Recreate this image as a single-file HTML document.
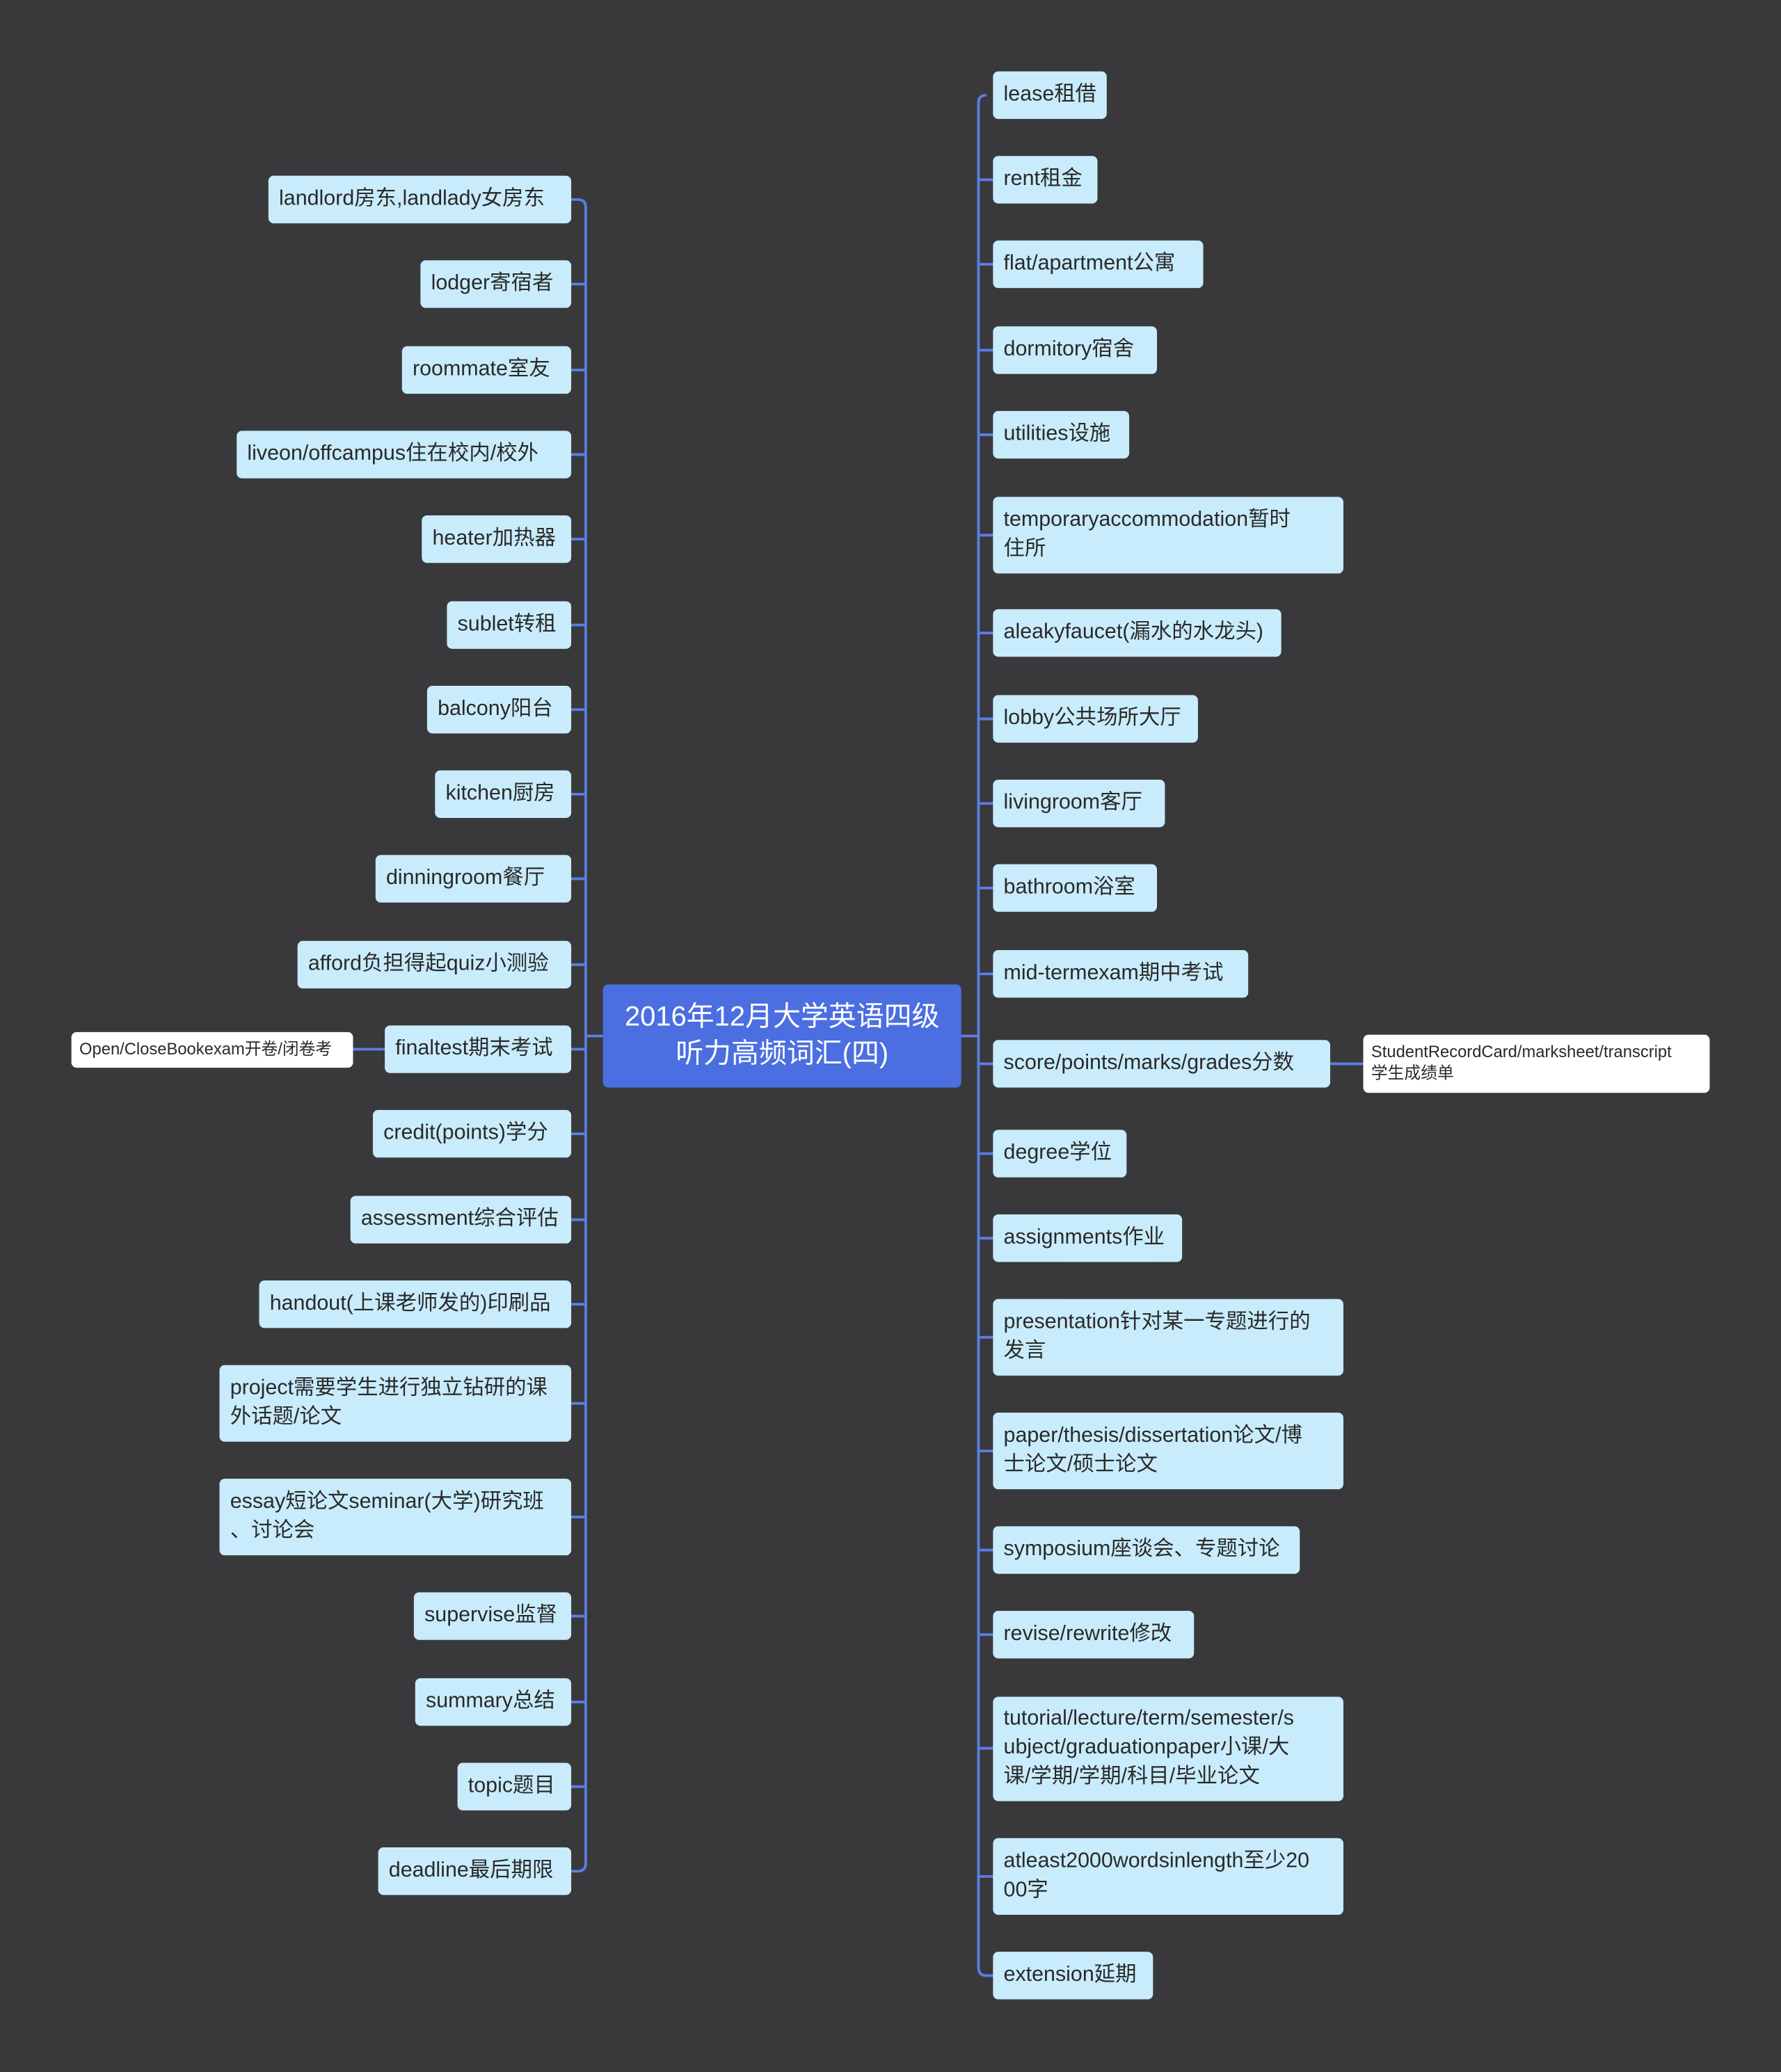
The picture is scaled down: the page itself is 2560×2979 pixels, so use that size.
<!DOCTYPE html>
<html><head><meta charset="utf-8">
<style>
html,body{margin:0;padding:0;background:#39393b;}
body{width:2560px;height:2979px;overflow:hidden;}
#w{position:absolute;left:0;top:0;width:1347px;height:1568px;transform:scale(1.9006,1.8999);transform-origin:0 0;background:#39393b;}
.n{position:absolute;box-sizing:border-box;background:#c9ecfc;border-radius:4px;color:#2a2a2a;font-family:"Liberation Sans","Noto Sans CJK SC",sans-serif;font-size:16px;line-height:22px;padding:7px 8px;white-space:nowrap;overflow:hidden;}
.s{background:#fff;font-size:12.5px;line-height:16px;padding:5px 6px;}
.c{position:absolute;left:456px;top:745px;width:271px;height:78px;background:#4b6fe0;border-radius:4px;color:#fff;font-family:"Liberation Sans","Noto Sans CJK SC",sans-serif;font-size:21px;line-height:28px;text-align:center;padding-top:11px;box-sizing:border-box;}
svg{position:absolute;left:0;top:0;}
</style></head><body><div id="w">
<svg width="1347" height="1568" fill="none" stroke="#5b7de6" stroke-width="2">
<path d="M432 151 H437 Q443 151 443 157 V1410 Q443 1416 437 1416 H432"/>
<path d="M746 72 Q740 72 740 78 V1489 Q740 1495 746 1495 H751"/>
<path d="M443 784 H456 M727 784 H740 M267 794 H291 M1006 805 H1031"/>
<path d="M432 215 H443 M432 280 H443 M432 344 H443 M432 408 H443 M432 473 H443 M432 537 H443 M432 601 H443 M432 665 H443 M432 730 H443 M432 794 H443 M432 858 H443 M432 923 H443 M432 987 H443 M432 1062 H443 M432 1148 H443 M432 1223 H443 M432 1288 H443 M432 1352 H443"/>
<path d="M740 136 H751 M740 200 H751 M740 265 H751 M740 329 H751 M740 405 H751 M740 479 H751 M740 544 H751 M740 608 H751 M740 672 H751 M740 737 H751 M740 805 H751 M740 873 H751 M740 937 H751 M740 1012 H751 M740 1098 H751 M740 1173 H751 M740 1237 H751 M740 1323 H751 M740 1420 H751"/>
</svg>
<div class="c">2016年12月大学英语四级<br>听力高频词汇(四)</div>

<div class="n" style="left:203px;top:133px;width:229px;height:36px">landlord房东,landlady女房东</div>
<div class="n" style="left:318px;top:197px;width:114px;height:36px">lodger寄宿者</div>
<div class="n" style="left:304px;top:262px;width:128px;height:36px">roommate室友</div>
<div class="n" style="left:179px;top:326px;width:253px;height:36px">liveon/offcampus住在校内/校外</div>
<div class="n" style="left:319px;top:390px;width:113px;height:36px">heater加热器</div>
<div class="n" style="left:338px;top:455px;width:94px;height:36px">sublet转租</div>
<div class="n" style="left:323px;top:519px;width:109px;height:36px">balcony阳台</div>
<div class="n" style="left:329px;top:583px;width:103px;height:36px">kitchen厨房</div>
<div class="n" style="left:284px;top:647px;width:148px;height:36px">dinningroom餐厅</div>
<div class="n" style="left:225px;top:712px;width:207px;height:36px">afford负担得起quiz小测验</div>
<div class="n" style="left:291px;top:776px;width:141px;height:36px">finaltest期末考试</div>
<div class="n" style="left:282px;top:840px;width:150px;height:36px">credit(points)学分</div>
<div class="n" style="left:265px;top:905px;width:167px;height:36px">assessment综合评估</div>
<div class="n" style="left:196px;top:969px;width:236px;height:36px">handout(上课老师发的)印刷品</div>
<div class="n" style="left:166px;top:1033px;width:266px;height:58px">project需要学生进行独立钻研的课<br>外话题/论文</div>
<div class="n" style="left:166px;top:1119px;width:266px;height:58px">essay短论文seminar(大学)研究班<br>、讨论会</div>
<div class="n" style="left:313px;top:1205px;width:119px;height:36px">supervise监督</div>
<div class="n" style="left:314px;top:1270px;width:118px;height:36px">summary总结</div>
<div class="n" style="left:346px;top:1334px;width:86px;height:36px">topic题目</div>
<div class="n" style="left:286px;top:1398px;width:146px;height:36px">deadline最后期限</div>
<div class="n s" style="left:54px;top:781px;width:213px;height:27px">Open/CloseBookexam开卷/闭卷考</div>

<div class="n" style="left:751px;top:54px;width:86px;height:36px">lease租借</div>
<div class="n" style="left:751px;top:118px;width:79px;height:36px">rent租金</div>
<div class="n" style="left:751px;top:182px;width:159px;height:36px">flat/apartment公寓</div>
<div class="n" style="left:751px;top:247px;width:124px;height:36px">dormitory宿舍</div>
<div class="n" style="left:751px;top:311px;width:103px;height:36px">utilities设施</div>
<div class="n" style="left:751px;top:376px;width:265px;height:58px">temporaryaccommodation暂时<br>住所</div>
<div class="n" style="left:751px;top:461px;width:218px;height:36px">aleakyfaucet(漏水的水龙头)</div>
<div class="n" style="left:751px;top:526px;width:155px;height:36px">lobby公共场所大厅</div>
<div class="n" style="left:751px;top:590px;width:130px;height:36px">livingroom客厅</div>
<div class="n" style="left:751px;top:654px;width:124px;height:36px">bathroom浴室</div>
<div class="n" style="left:751px;top:719px;width:193px;height:36px">mid-termexam期中考试</div>
<div class="n" style="left:751px;top:787px;width:255px;height:36px">score/points/marks/grades分数</div>
<div class="n" style="left:751px;top:855px;width:101px;height:36px">degree学位</div>
<div class="n" style="left:751px;top:919px;width:143px;height:36px">assignments作业</div>
<div class="n" style="left:751px;top:983px;width:265px;height:58px">presentation针对某一专题进行的<br>发言</div>
<div class="n" style="left:751px;top:1069px;width:265px;height:58px">paper/thesis/dissertation论文/博<br>士论文/硕士论文</div>
<div class="n" style="left:751px;top:1155px;width:232px;height:36px">symposium座谈会、专题讨论</div>
<div class="n" style="left:751px;top:1219px;width:152px;height:36px">revise/rewrite修改</div>
<div class="n" style="left:751px;top:1284px;width:265px;height:79px;padding-top:6px">tutorial/lecture/term/semester/s<br>ubject/graduationpaper小课/大<br>课/学期/学期/科目/毕业论文</div>
<div class="n" style="left:751px;top:1391px;width:265px;height:58px">atleast2000wordsinlength至少20<br>00字</div>
<div class="n" style="left:751px;top:1477px;width:121px;height:36px">extension延期</div>
<div class="n s" style="left:1031px;top:783px;width:262px;height:44px;padding-top:5px">StudentRecordCard/marksheet/transcript<br>学生成绩单</div>
</div></body></html>
